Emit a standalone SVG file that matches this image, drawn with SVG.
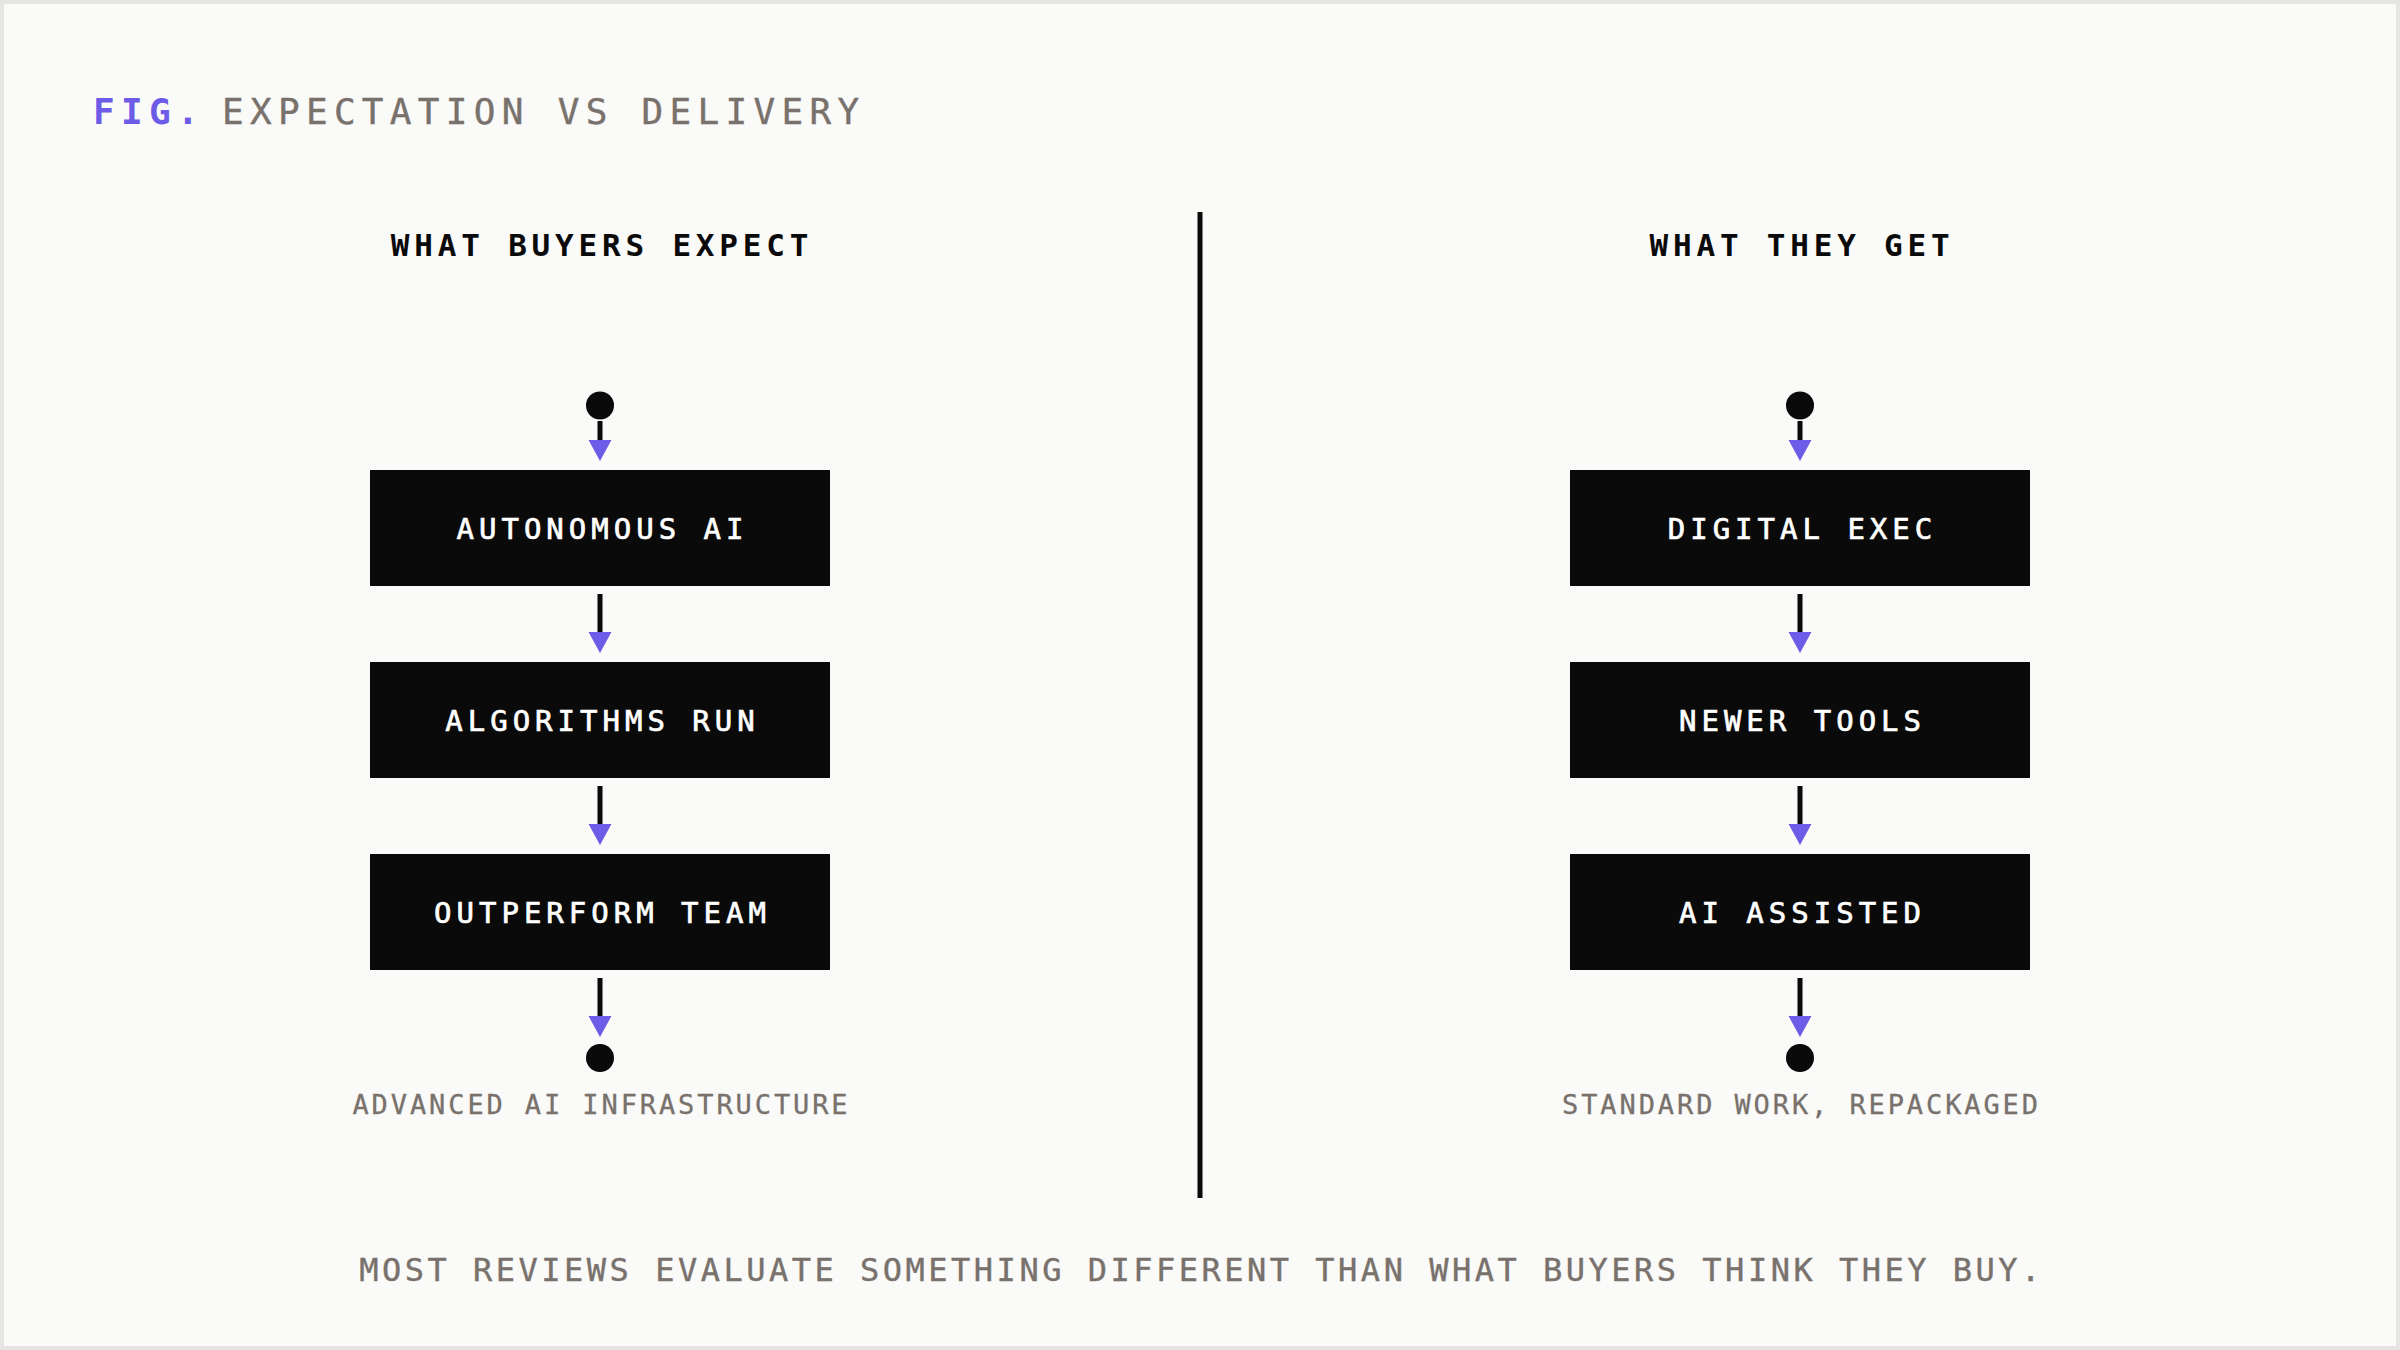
<svg xmlns="http://www.w3.org/2000/svg" width="2400" height="1350" viewBox="0 0 2400 1350">
  <style>
    .mono { font-family: "DejaVu Sans Mono", "Liberation Mono", monospace; }
    .title { font-size: 36px; letter-spacing: 6.3px; }
    .fig { fill: #6c5ce7; font-weight: 700; }
    .gray { fill: #78716c; stroke: #78716c; stroke-width: 0.4px; }
    .head { font-size: 31px; font-weight: 700; letter-spacing: 4.8px; fill: #0a0a0a; text-anchor: middle; }
    .box { fill: #0a0a0a; }
    .label { font-size: 29px; font-weight: 500; letter-spacing: 5px; fill: #ffffff; stroke: #ffffff; stroke-width: 0.7px; text-anchor: middle; }
    .note { font-size: 27px; letter-spacing: 2.9px; fill: #78716c; stroke: #78716c; stroke-width: 0.3px; text-anchor: middle; }
    .foot { font-size: 32px; letter-spacing: 3.5px; fill: #78716c; stroke: #78716c; stroke-width: 0.4px; text-anchor: middle; }
    .conn { stroke: #0a0a0a; stroke-width: 5; fill: none; stroke-linecap: butt; }
    .dot { fill: #0a0a0a; }
  </style>
  <defs>
    <marker id="arrow" markerUnits="userSpaceOnUse" markerWidth="30" markerHeight="30" refX="0" refY="0" orient="auto" overflow="visible">
      <path d="M0,-11.5 L21,0 L0,11.5 Z" fill="#6c5ce7"/>
    </marker>
  </defs>

  <rect x="0" y="0" width="2400" height="1350" fill="#e6e5e3"/>
  <rect x="4" y="4" width="2392" height="1342" fill="#fafaf8"/>

  <g id="title" class="mono title">
    <text x="93" y="124" class="fig">FIG.</text>
    <text x="222" y="124" class="gray">EXPECTATION VS DELIVERY</text>
  </g>

  <g id="divider">
    <line x1="1200" y1="212" x2="1200" y2="1198" stroke="#0a0a0a" stroke-width="5"/>
  </g>

  <g id="header-left"><text class="mono head" x="602" y="256">WHAT BUYERS EXPECT</text></g>
  <g id="header-right"><text class="mono head" x="1802" y="256">WHAT THEY GET</text></g>

  <g id="start-left"><circle class="dot" cx="600" cy="405.5" r="14"/></g>
  <g id="start-right"><circle class="dot" cx="1800" cy="405.5" r="14"/></g>

  <g id="node-autonomous-ai">
    <rect class="box" x="370" y="470" width="460" height="116"/>
    <text class="mono label" x="602.5" y="538.5">AUTONOMOUS AI</text>
  </g>
  <g id="node-algorithms-run">
    <rect class="box" x="370" y="662" width="460" height="116"/>
    <text class="mono label" x="602.5" y="730.5">ALGORITHMS RUN</text>
  </g>
  <g id="node-outperform-team">
    <rect class="box" x="370" y="854" width="460" height="116"/>
    <text class="mono label" x="602.5" y="922.5">OUTPERFORM TEAM</text>
  </g>

  <g id="node-digital-exec">
    <rect class="box" x="1570" y="470" width="460" height="116"/>
    <text class="mono label" x="1802.5" y="538.5">DIGITAL EXEC</text>
  </g>
  <g id="node-newer-tools">
    <rect class="box" x="1570" y="662" width="460" height="116"/>
    <text class="mono label" x="1802.5" y="730.5">NEWER TOOLS</text>
  </g>
  <g id="node-ai-assisted">
    <rect class="box" x="1570" y="854" width="460" height="116"/>
    <text class="mono label" x="1802.5" y="922.5">AI ASSISTED</text>
  </g>

  <g id="end-left">
    <circle class="dot" cx="600" cy="1058" r="14"/>
    <text class="mono note" x="601.5" y="1114">ADVANCED AI INFRASTRUCTURE</text>
  </g>
  <g id="end-right">
    <circle class="dot" cx="1800" cy="1058" r="14"/>
    <text class="mono note" x="1801.5" y="1114">STANDARD WORK, REPACKAGED</text>
  </g>

  <g id="connectors">
    <line class="conn" x1="600" y1="421" x2="600" y2="440" marker-end="url(#arrow)"/>
    <line class="conn" x1="600" y1="594" x2="600" y2="632" marker-end="url(#arrow)"/>
    <line class="conn" x1="600" y1="786" x2="600" y2="824" marker-end="url(#arrow)"/>
    <line class="conn" x1="600" y1="978" x2="600" y2="1016" marker-end="url(#arrow)"/>
    <line class="conn" x1="1800" y1="421" x2="1800" y2="440" marker-end="url(#arrow)"/>
    <line class="conn" x1="1800" y1="594" x2="1800" y2="632" marker-end="url(#arrow)"/>
    <line class="conn" x1="1800" y1="786" x2="1800" y2="824" marker-end="url(#arrow)"/>
    <line class="conn" x1="1800" y1="978" x2="1800" y2="1016" marker-end="url(#arrow)"/>
  </g>

  <g id="footer">
    <text class="mono foot" x="1201.5" y="1281">MOST REVIEWS EVALUATE SOMETHING DIFFERENT THAN WHAT BUYERS THINK THEY BUY.</text>
  </g>
</svg>
